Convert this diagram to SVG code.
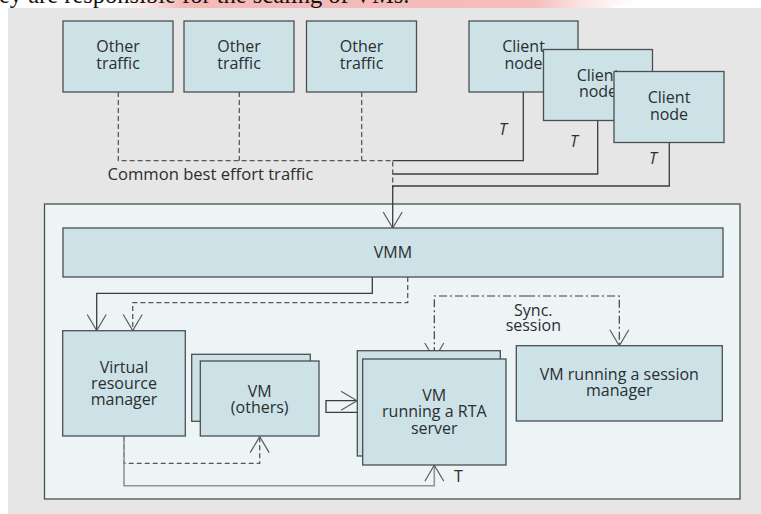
<svg xmlns="http://www.w3.org/2000/svg" width="761" height="514" viewBox="0 0 761 514">
  <style>
    .box { fill: #cce2e7; stroke: #4a4f52; stroke-width: 1.3; }
    .lbl { font-family: "Open Sans", "Liberation Sans", sans-serif; font-size: 16px; fill: #2a2e31; text-anchor: middle; }
    .ital { font-style: italic; }
    .solid { fill: none; stroke: #3a3d40; stroke-width: 1.3; }
    .grey { fill: none; stroke: #8e9698; stroke-width: 1.6; }
    .dash { fill: none; stroke: #55595c; stroke-width: 1.3; stroke-dasharray: 5 3; }
    .dashdot { fill: none; stroke: #3a3d40; stroke-width: 1.2; stroke-dasharray: 8 3 2 3; }
  </style>
  <defs>
    <marker id="vee" viewBox="-18 -11 20 22" refX="0" refY="0" markerWidth="20" markerHeight="22" markerUnits="userSpaceOnUse" orient="auto">
      <path d="M-16,-9.5 L0,0 L-16,9.5" fill="none" stroke="#5a5e61" stroke-width="1.2"/>
    </marker>
    <linearGradient id="pink" x1="0" y1="0" x2="1" y2="0">
      <stop offset="0" stop-color="#f7c4c2" stop-opacity="0"/>
      <stop offset="0.12" stop-color="#f5b9b6"/>
      <stop offset="0.8" stop-color="#f6bdbb"/>
      <stop offset="1" stop-color="#fbe2e1" stop-opacity="0"/>
    </linearGradient>
  </defs>

  <!-- page strip above the figure -->
  <rect x="0" y="0" width="761" height="514" fill="#ffffff"/>
  <polygon points="120,0 640,0 610,8 120,8" fill="url(#pink)"/>
  <text x="-1" y="2.5" font-family="'Liberation Serif', serif" font-size="24.5px" fill="#111">ey are responsible for the scaling of VMs.</text>

  <!-- figure background -->
  <rect x="8" y="8" width="753" height="506" fill="#e7e6e7"/>

  <!-- host container -->
  <rect id="host" x="44.5" y="204" width="695.5" height="295" fill="#edf4f6" stroke="#4a4f52" stroke-width="1.3"/>

  <!-- connectors -->
  <g id="connectors">
    <path class="dash" d="M118.3,92 V160.7 H392.7 V188"/>
    <path class="dash" d="M239.3,92 V160.7"/>
    <path class="dash" d="M361.7,92 V160.7"/>
    <path class="solid" d="M523.3,92 V160.7 H392.7"/>
    <path class="solid" d="M597.7,120.7 V174 H392.7"/>
    <path class="solid" d="M669.3,143 V186 H392.7 V228" marker-end="url(#vee)"/>

    <path class="solid" d="M372.3,277 V293.3 H96.7 V330.5" marker-end="url(#vee)"/>
    <path class="dash" d="M407.7,277 V302.7 H132.7 V330.5" marker-end="url(#vee)"/>

    <path class="dashdot" d="M527,296 H434.3 V359" marker-end="url(#vee)"/>
    <path class="dashdot" d="M527,296 H619.3 V345.7" marker-end="url(#vee)"/>

    <path class="solid" d="M363,412.3 H326 V400.7 H357" marker-end="url(#vee)"/>

    <path class="dash" d="M124,436 V463.3 H259.7 V436.6" marker-end="url(#vee)"/>
    <path class="grey" d="M124,436 V485.7 H434.3 V465.2" marker-end="url(#vee)"/>
  </g>

  <!-- traffic sources -->
  <g id="other1">
    <rect class="box" x="63" y="21" width="110" height="71"/>
    <text class="lbl" x="118" y="52">Other<tspan x="118" dy="16.5">traffic</tspan></text>
  </g>
  <g id="other2">
    <rect class="box" x="184" y="21" width="110" height="71"/>
    <text class="lbl" x="239" y="52">Other<tspan x="239" dy="16.5">traffic</tspan></text>
  </g>
  <g id="other3">
    <rect class="box" x="306.5" y="21" width="110" height="71"/>
    <text class="lbl" x="361.5" y="52">Other<tspan x="361.5" dy="16.5">traffic</tspan></text>
  </g>

  <g id="client1">
    <rect class="box" x="469" y="21" width="109" height="71"/>
    <text class="lbl" x="523.5" y="52">Client<tspan x="523.5" dy="16.5">node</tspan></text>
  </g>
  <g id="client2">
    <rect class="box" x="543.5" y="49.5" width="109" height="71"/>
    <text class="lbl" x="598" y="80.5">Client<tspan x="598" dy="16.5">node</tspan></text>
  </g>
  <g id="client3">
    <rect class="box" x="614" y="71.5" width="110" height="71"/>
    <text class="lbl" x="669" y="103">Client<tspan x="669" dy="16.5">node</tspan></text>
  </g>

  <g id="labels-top">
    <text class="lbl ital" x="503" y="135">T</text>
    <text class="lbl ital" x="574" y="147">T</text>
    <text class="lbl ital" x="653" y="163.5">T</text>
    <text class="lbl" x="107.5" y="180" style="text-anchor:start;font-size:16.6px">Common best effort traffic</text>
  </g>

  <!-- hypervisor and guests -->
  <g id="vmm">
    <rect class="box" x="63" y="228" width="660" height="49"/>
    <text class="lbl" x="393" y="258">VMM</text>
  </g>

  <g id="vrm">
    <rect class="box" x="62.7" y="330.7" width="122.6" height="105.3"/>
    <text class="lbl" x="124" y="372.7">Virtual<tspan x="124" dy="16.5">resource</tspan><tspan x="124" dy="16.2">manager</tspan></text>
  </g>

  <g id="vm-others">
    <rect class="box" x="191.7" y="354.3" width="118.6" height="67"/>
    <rect class="box" x="200.3" y="361" width="118.7" height="75"/>
    <text class="lbl" x="259.7" y="397.3">VM<tspan x="259.7" dy="15.5">(others)</tspan></text>
  </g>

  <g id="vm-rta">
    <rect class="box" x="357.3" y="350.7" width="143" height="105.3"/>
    <rect class="box" x="362.7" y="359" width="143.3" height="106"/>
    <text class="lbl" x="434.3" y="400.7">VM<tspan x="434.3" dy="16.6">running a RTA</tspan><tspan x="434.3" dy="16.7">server</tspan></text>
  </g>

  <g id="vm-session">
    <rect class="box" x="516.3" y="345.7" width="206" height="75.3"/>
    <text class="lbl" x="619.3" y="380">VM running a session<tspan x="619.3" dy="16.3">manager</tspan></text>
  </g>

  <g id="labels-inner">
    <text class="lbl" x="533.3" y="316">Sync.<tspan x="533.3" dy="14.7">session</tspan></text>
    <text class="lbl" x="458.5" y="481.7">T</text>
  </g>
</svg>
